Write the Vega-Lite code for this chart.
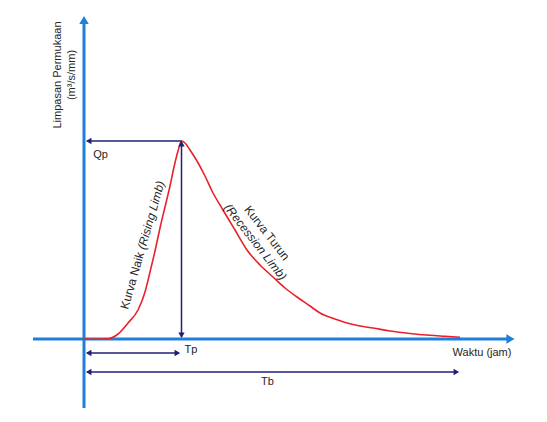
{
  "$schema": "https://vega.github.io/schema/vega-lite/v6.json",
  "width": 547,
  "height": 422,
  "autosize": {"type": "fit", "contains": "padding"},
  "padding": 0,
  "background": "white",
  "config": {"view": {"stroke": null}, "font": "Liberation Sans"},
  "datasets": {
    "axes": [
      {"x": 0, "y": -69, "x2": 0, "y2": 317},
      {"x": -51, "y": 0, "x2": 423, "y2": 0}
    ],
    "axisHeads": [
      {"x": 0, "y": 319, "dir": "up"},
      {"x": 426.5, "y": 0, "dir": "right"}
    ],
    "dims": [
      {"x": 3, "y": 198, "x2": 97.5, "y2": 198},
      {"x": 97.5, "y": 2, "x2": 97.5, "y2": 197},
      {"x": 3, "y": -14, "x2": 95, "y2": -14},
      {"x": 3, "y": -33, "x2": 374, "y2": -33}
    ],
    "dimHeads": [
      {"x": 4.7, "y": 198, "dir": "left"},
      {"x": 97.5, "y": 195.3, "dir": "up"},
      {"x": 97.5, "y": 3.7, "dir": "down"},
      {"x": 4.7, "y": -14, "dir": "left"},
      {"x": 93.3, "y": -14, "dir": "right"},
      {"x": 4.7, "y": -33, "dir": "left"},
      {"x": 372.3, "y": -33, "dir": "right"}
    ],
    "curve": [
      {"x": 0, "y": 0}, {"x": 11, "y": 0}, {"x": 24, "y": 0.3},
      {"x": 34, "y": 5}, {"x": 44, "y": 16}, {"x": 54, "y": 29},
      {"x": 61, "y": 47}, {"x": 66, "y": 67}, {"x": 71, "y": 88},
      {"x": 76, "y": 111}, {"x": 81, "y": 132}, {"x": 86, "y": 153},
      {"x": 90, "y": 172}, {"x": 94, "y": 188}, {"x": 97.5, "y": 198},
      {"x": 101, "y": 196}, {"x": 106, "y": 189}, {"x": 113, "y": 178},
      {"x": 121, "y": 163}, {"x": 128, "y": 148}, {"x": 139, "y": 129},
      {"x": 151, "y": 109}, {"x": 163, "y": 89}, {"x": 176, "y": 74},
      {"x": 189, "y": 62}, {"x": 201, "y": 51}, {"x": 213, "y": 42},
      {"x": 226, "y": 33}, {"x": 236, "y": 26}, {"x": 251, "y": 20},
      {"x": 263, "y": 16}, {"x": 276, "y": 13}, {"x": 289, "y": 11},
      {"x": 306, "y": 8}, {"x": 326, "y": 5.5}, {"x": 346, "y": 3.7},
      {"x": 361, "y": 2.7}, {"x": 376, "y": 1.7}
    ],
    "labels": [
      {"x": -26, "y": 264, "text": "Limpasan Permukaan", "angle": -90, "size": 11},
      {"x": -12, "y": 264, "text": "(m³/s/mm)", "angle": -90, "size": 11},
      {"x": 16.5, "y": 184, "text": "Qp", "angle": 0, "size": 11},
      {"x": 107, "y": -11, "text": "Tp", "angle": 0, "size": 11},
      {"x": 183.5, "y": -43, "text": "Tb", "angle": 0, "size": 11},
      {"x": 398, "y": -14, "text": "Waktu (jam)", "angle": 0, "size": 11},
      {"x": 48.3, "y": 58.4, "text": "Kurva Naik", "angle": -74, "size": 12},
      {"x": 183, "y": 106, "text": "Kurva Turun", "angle": 52, "size": 12}
    ],
    "italicLabels": [
      {"x": 67.1, "y": 123.8, "text": "(Rising Limb)", "angle": -74, "size": 12},
      {"x": 171.5, "y": 97, "text": "(Recession Limb)", "angle": 52, "size": 12}
    ]
  },
  "encoding": {
    "x": {"field": "x", "type": "quantitative", "scale": {"domain": [-84, 463], "nice": false, "zero": false}, "axis": null},
    "y": {"field": "y", "type": "quantitative", "scale": {"domain": [-83, 339], "nice": false, "zero": false}, "axis": null}
  },
  "layer": [
    {
      "data": {"name": "axes"},
      "mark": {"type": "rule", "color": "#1f80dc", "strokeWidth": 3},
      "encoding": {"x2": {"field": "x2"}, "y2": {"field": "y2"}}
    },
    {
      "data": {"name": "axisHeads"},
      "mark": {"type": "point", "filled": true, "color": "#1f80dc", "opacity": 1, "size": 90},
      "encoding": {
        "shape": {"field": "dir", "type": "nominal", "scale": {"domain": ["up", "down", "left", "right"], "range": ["triangle-up", "triangle-down", "triangle-left", "triangle-right"]}, "legend": null}
      }
    },
    {
      "data": {"name": "curve"},
      "mark": {"type": "line", "color": "#e8212b", "strokeWidth": 1.6, "interpolate": "monotone"},
      "encoding": {"order": {"field": "x", "type": "quantitative"}}
    },
    {
      "data": {"name": "dims"},
      "mark": {"type": "rule", "color": "#1f1f78", "strokeWidth": 1.5},
      "encoding": {"x2": {"field": "x2"}, "y2": {"field": "y2"}}
    },
    {
      "data": {"name": "dimHeads"},
      "mark": {"type": "point", "filled": true, "color": "#1f1f78", "opacity": 1, "size": 40},
      "encoding": {
        "shape": {"field": "dir", "type": "nominal", "scale": {"domain": ["up", "down", "left", "right"], "range": ["triangle-up", "triangle-down", "triangle-left", "triangle-right"]}, "legend": null}
      }
    },
    {
      "data": {"name": "labels"},
      "mark": {"type": "text", "color": "#262626", "align": "center", "baseline": "middle", "font": "Liberation Sans"},
      "encoding": {
        "text": {"field": "text"},
        "angle": {"field": "angle", "type": "quantitative", "scale": null},
        "size": {"field": "size", "type": "quantitative", "scale": null}
      }
    },
    {
      "data": {"name": "italicLabels"},
      "mark": {"type": "text", "color": "#262626", "align": "center", "baseline": "middle", "font": "Liberation Sans", "fontStyle": "italic"},
      "encoding": {
        "text": {"field": "text"},
        "angle": {"field": "angle", "type": "quantitative", "scale": null},
        "size": {"field": "size", "type": "quantitative", "scale": null}
      }
    }
  ]
}
